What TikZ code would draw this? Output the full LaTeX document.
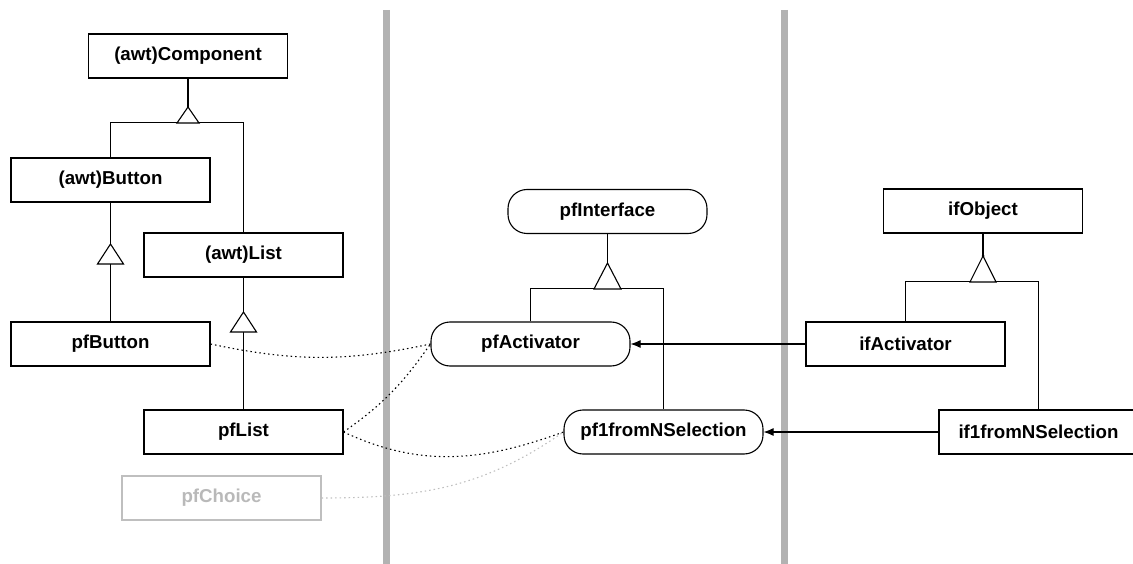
\documentclass[tikz,border=0pt]{standalone}
\usepackage{fontspec}
\setmainfont{Liberation Sans}
\usetikzlibrary{arrows.meta}

\begin{document}
\begin{tikzpicture}[x=1pt,y=-1pt,line width=1.1pt,
    box/.style={draw,minimum width=199pt,minimum height=44pt,inner sep=0pt,
        font=\fontsize{18.7}{22}\selectfont\bfseries},
    pill/.style={box,rounded corners=19pt},
    dep/.style={dash pattern=on 1.5pt off 3pt},
    divider/.style={line width=7pt,color=gray!60}]
        \useasboundingbox (0,0) rectangle (1133,564);
        % 分隔线
        \draw[divider] (386.5,10) -- (386.5,564);
        \draw[divider] (784.5,10) -- (784.5,564);
        % 左侧: awt 类
        \node[box] (comp) at (188,56) {(awt)Component};
        \node[box] (button) at (110.5,180) {(awt)Button};
        \node[box] (list) at (243.5,255) {(awt)List};
        \node[box] (pfbutton) at (110.5,344) {pfButton};
        \node[box] (pflist) at (243.5,432) {pfList};
        \node[box,draw=gray!50,text=gray!55] (pfchoice) at (221.5,498) {pfChoice};
        % 中间: pf 接口
        \node[pill] (pfint) at (607.5,211.5) {pfInterface};
        \node[pill] (pfact) at (530.5,344) {pfActivator};
        \node[pill] (pfsel) at (663.5,432) {pf1fromNSelection};
        % 右侧: if 类
        \node[box] (ifobj) at (983,211) {ifObject};
        \node[box] (ifact) at (905.5,344) {ifActivator};
        \node[box] (ifsel) at (1038.5,432) {if1fromNSelection};
        % 继承 Component
        \draw (comp.south) -- (188,107);
        \draw (button.north) -- ++(0,-35) -| (list.north);
        \draw[fill=white] (188,107) -- ++(-11,16) -- ++(22,0) -- cycle;
        % 继承 Button, List
        \draw (button.south) -- (pfbutton.north);
        \draw[fill=white] (110.5,244) -- ++(-13,20) -- ++(26,0) -- cycle;
        \draw (list.south) -- (pflist.north);
        \draw[fill=white] (243.5,312) -- ++(-13,20) -- ++(26,0) -- cycle;
        % 继承 pfInterface
        \draw (pfint.south) -- (607.5,263);
        \draw (pfact.north) -- ++(0,-33) -| (pfsel.north);
        \draw[fill=white] (607.5,263) -- ++(-13.5,26) -- ++(27,0) -- cycle;
        % 继承 ifObject
        \draw (ifobj.south) -- (983,256);
        \draw (ifact.north) -- ++(0,-40) -| (ifsel.north);
        \draw[fill=white] (983,256) -- ++(-13,26) -- ++(26,0) -- cycle;
        \fill (983,256) circle (1.5pt);
        % if -> pf
        \draw[-{Latex[length=10pt,width=8pt]}] (ifact.west) -- (pfact.east);
        \draw[-{Latex[length=10pt,width=8pt]}] (ifsel.west) -- (pfsel.east);
        % 虚线
        \draw[dep] (pfbutton.east) to[out=-12,in=192] (pfact.west);
        \draw[dep] (pflist.east) to[out=35,in=235] (pfact.west);
        \draw[dep] (pflist.east) to[out=-25,in=200] (pfsel.west);
        \draw[dep,gray!50] (pfchoice.east) to[out=0,in=215] (pfsel.west);
    \end{tikzpicture}
\end{document}
